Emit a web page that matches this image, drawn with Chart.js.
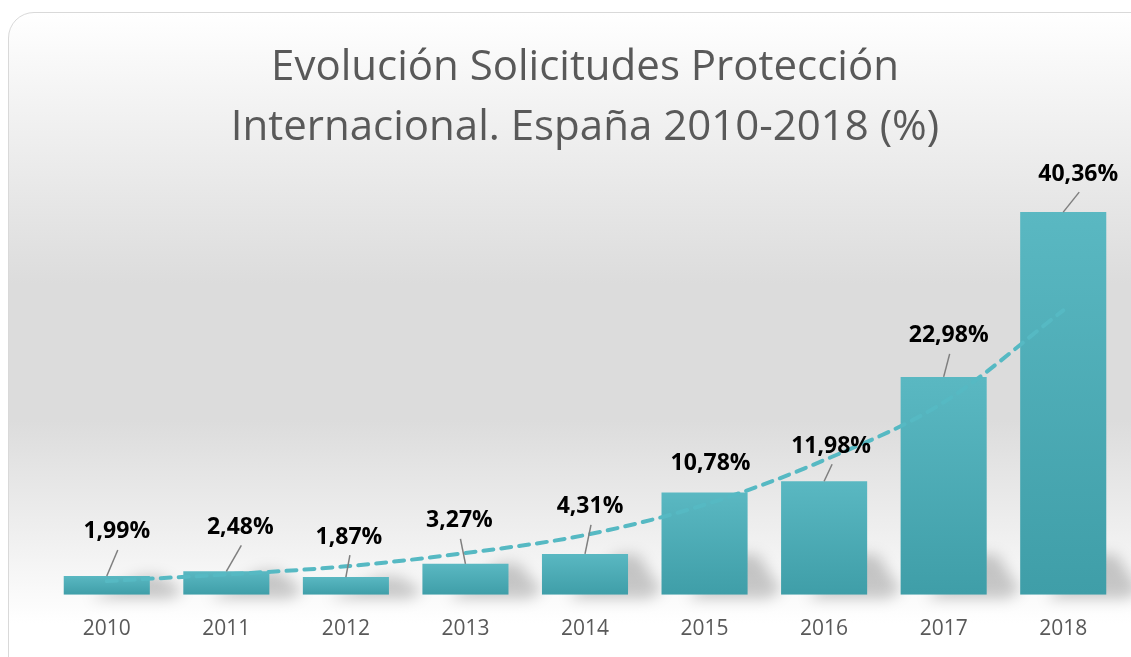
<!DOCTYPE html>
<html>
<head>
<meta charset="utf-8">
<script src="https://cdn.jsdelivr.net/npm/chart.js@4"></script>
<style>
html, body { margin: 0; padding: 0; background: #fff; overflow: hidden; }
#wrap { position: relative; width: 1131px; height: 657px; overflow: hidden; }
.card {
    position: absolute; left: 8px; top: 12px; width: 1150px; height: 680px;
    box-sizing: border-box; border: 1.5px solid #d9d9d9; border-radius: 26px;
    background: linear-gradient(to bottom, #ffffff 0%, #f4f4f4 12%, #dcdcdc 40%, #dcdcdc 60%, #f3f3f3 80%, #ffffff 90%);
}
canvas { position: absolute; left: 0; top: 0; }
</style>
</head>
<body>
<div id="wrap">
    <div class="card"></div>
    <canvas id="chart" width="1131" height="656"></canvas>
</div>
<script>
"use strict";

const years = ['2010', '2011', '2012', '2013', '2014', '2015', '2016', '2017', '2018'];
const solicitudes = [1.99, 2.48, 1.87, 3.27, 4.31, 10.78, 11.98, 22.98, 40.36];
// exponential trend line
const tendencia = [1.45, 2.15, 3.0, 4.4, 6.3, 9.5, 14.2, 20.3, 30.0];

// label nudges [dx, dy above bar top] (Excel labels were moved by hand)
const labelNudges = [[10, 44], [14, 44], [3, 40], [-6, 43], [5, 47], [6, 29], [7, 35], [5, 41], [15, 38]];

const fmt = (v) => v.toFixed(2).replace('.', ',') + '%';

const barShadow = {
    id: 'barShadow',
    beforeDatasetsDraw(chart) {
        const ctx = chart.ctx;
        const meta = chart.getDatasetMeta(0);
        ctx.save();
        ctx.filter = 'blur(7px)';
        ctx.fillStyle = 'rgba(0,0,0,0.2)';
        meta.data.forEach((bar) => {
            const r = bar.x + bar.width / 2;
            const b = bar.base;
            const h = Math.min(40, b - bar.y);
            ctx.beginPath();
            ctx.moveTo(r - 10, b - h);
            ctx.lineTo(r + 10, b - h);
            ctx.lineTo(r + 34, b - 4);
            ctx.lineTo(r + 20, b + 4);
            ctx.lineTo(r - 60, b + 4);
            ctx.closePath();
            ctx.fill();
        });
        ctx.restore();
    }
};

const barLabels = {
    id: 'barLabels',
    afterDatasetsDraw(chart) {
        const ctx = chart.ctx;
        const meta = chart.getDatasetMeta(0);
        ctx.save();
        ctx.font = 'bold 23px "Open Sans"';
        ctx.textAlign = 'center';
        ctx.textBaseline = 'middle';
        meta.data.forEach((bar, i) => {
            const lx = bar.x + labelNudges[i][0];
            const ly = bar.y - labelNudges[i][1];
            if (bar.y - (ly + 18) > 12) {
                ctx.strokeStyle = '#7f7f7f';
                ctx.lineWidth = 1.5;
                ctx.beginPath();
                ctx.moveTo(lx + 1, ly + 18);
                ctx.lineTo(bar.x, bar.y);
                ctx.stroke();
            }
            ctx.fillStyle = '#000000';
            ctx.fillText(fmt(solicitudes[i]), lx, ly);
        });
        ctx.restore();
    }
};

const barGradient = (c) => {
    const chart = c.chart;
    if (!chart.chartArea || c.raw === undefined) return '#4fb0b9';
    const y = chart.scales.y;
    const top = y.getPixelForValue(c.raw);
    const bottom = y.getPixelForValue(0);
    const g = chart.ctx.createLinearGradient(0, top, 0, bottom);
    g.addColorStop(0, '#5ab8c2');
    g.addColorStop(1, '#3f9ea8');
    return g;
};

const ctx = document.getElementById('chart').getContext('2d');

new Chart(ctx, {
    data: {
        labels: years,
        datasets: [{
            type: 'bar',
            data: solicitudes,
            backgroundColor: barGradient,
            barPercentage: 0.72,
            categoryPercentage: 1,
            order: 2
        }, {
            type: 'line',
            data: tendencia,
            borderColor: '#56b9c3',
            borderWidth: 4,
            borderDash: [10, 8],
            borderCapStyle: 'round',
            pointRadius: 0,
            tension: 0.4,
            cubicInterpolationMode: 'monotone',
            fill: false,
            order: 1
        }]
    },
    options: {
        responsive: false,
        animation: false,
        layout: {
            padding: { top: 20, left: 47, right: 8, bottom: 0 }
        },
        plugins: {
            legend: { display: false },
            tooltip: { enabled: false },
            title: {
                display: true,
                text: ['Evolución Solicitudes Protección', 'Internacional. España 2010-2018 (%)'],
                color: '#595959',
                font: { family: '"Open Sans"', size: 42, weight: '400', lineHeight: 1.43 },
                padding: { top: 18, bottom: 10 }
            }
        },
        scales: {
            x: {
                grid: { display: false },
                border: { display: false },
                ticks: {
                    color: '#595959',
                    padding: 14,
                    font: { family: '"Open Sans"', size: 21 }
                }
            },
            y: {
                display: false,
                min: 0,
                max: 45
            }
        }
    },
    plugins: [barShadow, barLabels]
});
</script>
</body>
</html>
